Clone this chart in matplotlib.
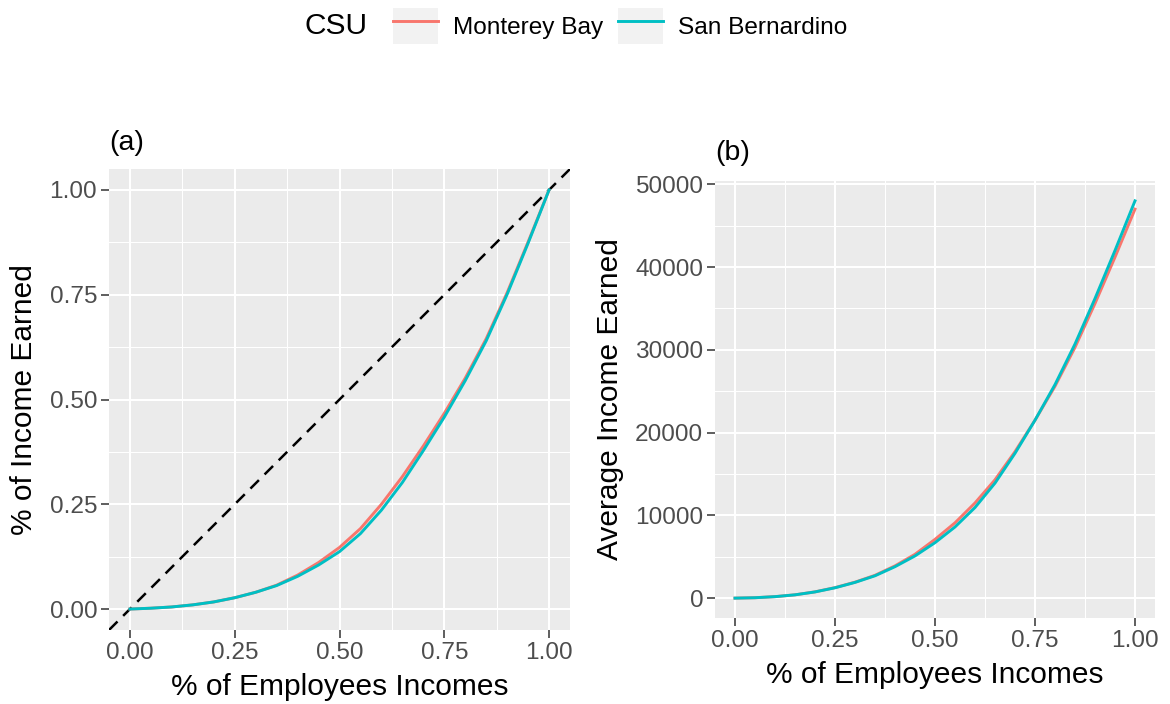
import matplotlib
matplotlib.use("Agg")
import matplotlib.pyplot as plt
from matplotlib.lines import Line2D
from matplotlib.patches import Patch
from matplotlib.legend_handler import HandlerTuple
from matplotlib.ticker import MultipleLocator

# share of employees (sorted by income)
pct = [0.00, 0.05, 0.10, 0.15, 0.20, 0.25, 0.30, 0.35, 0.40, 0.45, 0.50,
       0.55, 0.60, 0.65, 0.70, 0.75, 0.80, 0.85, 0.90, 0.95, 1.00]

# (a) cumulative share of income
lorenz_monterey = [0.000, 0.002, 0.005, 0.010, 0.017, 0.027, 0.040, 0.057, 0.081, 0.111, 0.147,
                   0.192, 0.250, 0.316, 0.389, 0.467, 0.551, 0.645, 0.755, 0.876, 1.000]
lorenz_sanbern = [0.000, 0.002, 0.005, 0.010, 0.017, 0.027, 0.040, 0.056, 0.078, 0.105, 0.137,
                  0.180, 0.236, 0.302, 0.378, 0.458, 0.545, 0.640, 0.751, 0.873, 1.000]

# (b) average income earned
avg_monterey = [0, 50, 180, 400, 760, 1270, 1930, 2760, 3900, 5300, 7100,
                9100, 11500, 14300, 17700, 21500, 25600, 30300, 35600, 41200, 47000]
avg_sanbern = [0, 50, 180, 400, 750, 1250, 1900, 2700, 3800, 5100, 6700,
               8600, 10950, 13900, 17500, 21500, 25800, 30700, 36200, 42000, 48000]

campuses = ["Monterey Bay", "San Bernardino"]
colors = ["#F8766D", "#00BFC4"]

# line of equality
eq_intercept, eq_slope = 0.0, 1.0

W, H = 1170, 704
fig = plt.figure(figsize=(W / 100, H / 100), dpi=100)
plt.rcParams['font.family'] = ['Liberation Sans', 'DejaVu Sans']


def px_axes(left, top, right, bottom):
    return fig.add_axes([left / W, 1 - bottom / H, (right - left) / W, (bottom - top) / H])


def style(ax):
    ax.set_facecolor('#EBEBEB')
    for s in ax.spines.values():
        s.set_visible(False)
    ax.set_axisbelow(True)
    ax.grid(which='major', color='white', lw=1.5)
    ax.grid(which='minor', color='white', lw=0.75)
    ax.tick_params(which='major', length=5.5, width=1.1, color='#333333',
                   labelcolor='#4D4D4D', labelsize=17.6, pad=3)
    ax.tick_params(which='minor', length=0)
    ax.xaxis.set_major_locator(MultipleLocator(0.25))
    ax.xaxis.set_minor_locator(MultipleLocator(0.125))
    ax.xaxis.set_major_formatter(lambda v, p: f"{v:.2f}")
    ax.set_xlim(-0.05, 1.05)


ax1 = px_axes(109, 169, 570, 630)
style(ax1)
ax1.axline((0, eq_intercept), slope=eq_slope, color='black', lw=1.8,
           linestyle=(0, (4.8, 3.2)))
for ys, c in zip([lorenz_monterey, lorenz_sanbern], colors):
    ax1.plot(pct, ys, color=c, lw=2.1, solid_joinstyle='round')
ax1.yaxis.set_major_locator(MultipleLocator(0.25))
ax1.yaxis.set_minor_locator(MultipleLocator(0.125))
ax1.yaxis.set_major_formatter(lambda v, p: f"{v:.2f}")
ax1.set_ylim(-0.05, 1.05)
ax1.set_xlabel("% of Employees Incomes", size=21.5, labelpad=6.5)
ax1.set_ylabel("% of Income Earned", size=21.5, labelpad=8)
ax1.set_title("(a)", loc='left', size=20.5, pad=14)

ax2 = px_axes(715, 181, 1155, 618)
style(ax2)
for ys, c in zip([avg_monterey, avg_sanbern], colors):
    ax2.plot(pct, ys, color=c, lw=2.1, solid_joinstyle='round')
ax2.yaxis.set_major_locator(MultipleLocator(10000))
ax2.yaxis.set_minor_locator(MultipleLocator(5000))
ax2.yaxis.set_major_formatter(lambda v, p: f"{v:.0f}")
ax2.set_ylim(-2400, 50400)
ax2.set_xlabel("% of Employees Incomes", size=21.5, labelpad=6.5)
ax2.set_ylabel("Average Income Earned", size=21.5, labelpad=8)
ax2.set_title("(b)", loc='left', size=20.5, pad=15)

# legend on top
fig.text(305 / W, 1 - 26 / H, "CSU", size=21.5, va='center', ha='left')
handles = [(Patch(fc='#F2F2F2', ec='none'), Line2D([], [], color=c, lw=2.1))
           for c in colors]
fig.legend(handles, campuses, handler_map={tuple: HandlerTuple(ndivide=1, pad=0)},
           loc='center left', bbox_to_anchor=(393 / W, 1 - 26 / H), ncol=2,
           frameon=False, fontsize=17.6, borderpad=0, borderaxespad=0,
           handlelength=1.85, handleheight=1.9, handletextpad=0.6,
           columnspacing=0.6)

fig.savefig("out.png", dpi=100, facecolor='white')
